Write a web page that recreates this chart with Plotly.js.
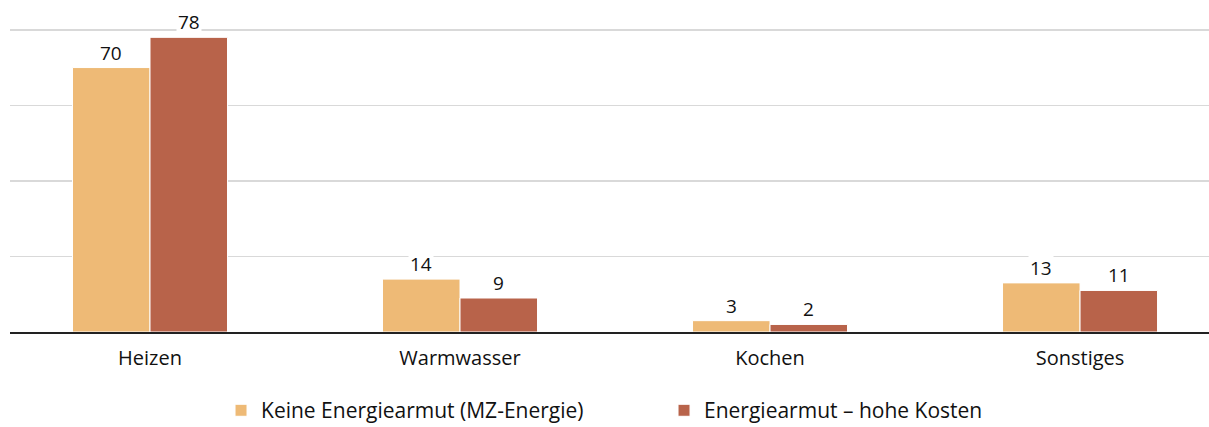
<!DOCTYPE html>
<html><head><meta charset="utf-8">
<script src="https://cdn.plot.ly/plotly-3.0.1.min.js"></script>
<style>html,body{margin:0;padding:0;background:#fff}#chart{width:1209px;height:427px}</style>
</head><body><div id="chart"></div>
<script>
const categories = ["Heizen", "Warmwasser", "Kochen", "Sonstiges"];
const seriesNames = ["Keine Energiearmut (MZ-Energie)", "Energiearmut \u2013 hohe Kosten"];
const keineEnergiearmut = [70, 14, 3, 13];
const energiearmutHoheKosten = [78, 9, 2, 11];
const colors = ["#EEBA76", "#B8634A"];
const FONT = "'Open Sans', Lato, sans-serif";

const allSeries = [keineEnergiearmut, energiearmutHoheKosten];
const traces = allSeries.map((vals, k) => ({
  type: "bar", name: seriesNames[k], x: categories, y: vals,
  marker: {color: colors[k], line: {color: "#ffffff", width: 1}},
  hoverinfo: "skip"
}));

const annotations = [];
allSeries.forEach((vals, k) => {
  vals.forEach((v, i) => {
    annotations.push({
      x: i + (k === 0 ? -0.125 : 0.125), y: v, xref: "x", yref: "y",
      text: String(v), showarrow: false, yanchor: "bottom", yshift: 0,
      bgcolor: "#ffffff", borderpad: 1,
      font: {family: FONT, size: 19, color: "#111"}
    });
  });
});

const layout = {
  width: 1209, height: 427,
  margin: {l: 10, r: 0, t: 26, b: 95, autoexpand: false},
  paper_bgcolor: "#fff", plot_bgcolor: "#fff",
  barmode: "group", bargap: 0.5, bargroupgap: 0,
  showlegend: true,
  legend: {orientation: "h", x: 0.176, xanchor: "left", y: -0.19, yanchor: "top",
    entrywidth: 398, entrywidthmode: "pixels", tracegroupgap: 0,
    font: {family: FONT, size: 21, color: "#111"}},
  xaxis: {type: "category", range: [-0.4516, 3.416], showgrid: false,
    showline: true, linecolor: "#222", linewidth: 1.5, ticks: "",
    ticklabelstandoff: 7,
    tickfont: {family: FONT, size: 20, color: "#111"}, fixedrange: true},
  yaxis: {range: [0, 81], dtick: 20, showticklabels: false, showgrid: true,
    gridcolor: "#d9d9d9", gridwidth: 1.5, zeroline: false, fixedrange: true},
  annotations: annotations
};
Plotly.newPlot("chart", traces, layout, {displayModeBar: false, staticPlot: true});
</script></body></html>
